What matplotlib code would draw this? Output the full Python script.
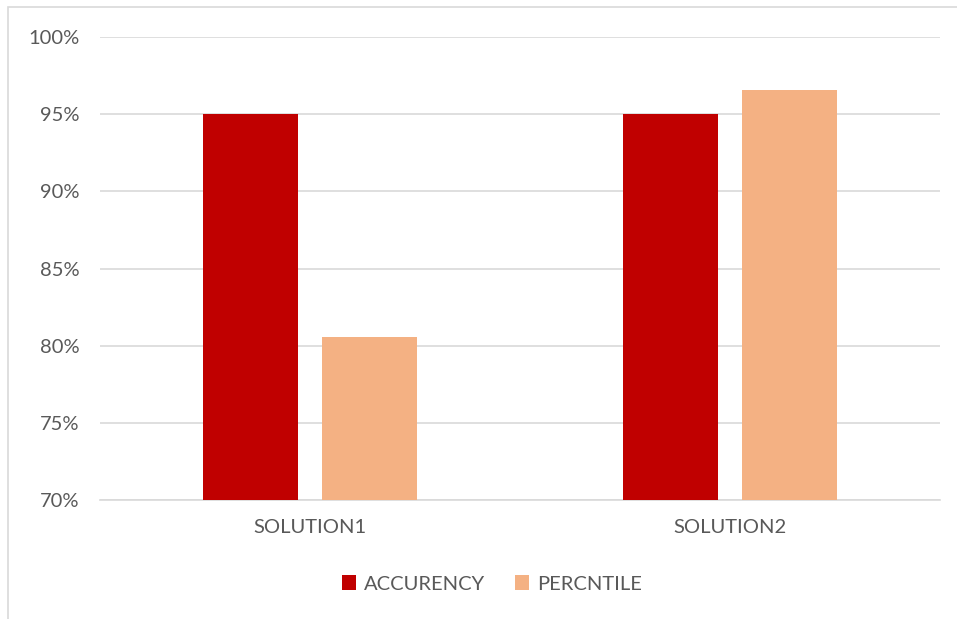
import matplotlib
matplotlib.use("Agg")
import matplotlib.pyplot as plt
import matplotlib.ticker as ticker
from matplotlib.patches import Rectangle

plt.rcParams["font.family"] = ["Lato", "DejaVu Sans"]

# data
categories = ["SOLUTION1", "SOLUTION2"]
accurency = [95.0, 95.0]
percntile = [80.58, 96.57]
y_ticks = [70, 75, 80, 85, 90, 95, 100]

RED = "#C00000"
PEACH = "#F4B183"
GRID = "#D9D9D9"
TEXT = "#595959"

fig = plt.figure(figsize=(9.57, 6.19), dpi=100)
ax = fig.add_axes([100 / 957, 1 - 500 / 619, 840 / 957, 463 / 619])

# chart frame (left and top edges visible)
fig.patches.append(Rectangle((8 / 957, -0.1), 1.2, 1 - 7 / 619 + 0.1,
                             transform=fig.transFigure, fill=False,
                             edgecolor=GRID, linewidth=1.2))

x = range(len(categories))
w = 0.224
off = 0.1417
ax.bar([i - off for i in x], accurency, w, color=RED, label="ACCURENCY", zorder=3)
ax.bar([i + off for i in x], percntile, w, color=PEACH, label="PERCNTILE", zorder=3)

ax.set_xlim(-0.5, 1.5)
ax.set_ylim(70, 100)
ax.set_yticks(y_ticks)
ax.yaxis.set_major_formatter(ticker.FuncFormatter(lambda v, p: f"{v:.0f}%"))
ax.set_xticks(list(x))
ax.set_xticklabels(categories)
ax.grid(axis="y", color=GRID, linewidth=1.2, zorder=0)
ax.tick_params(axis="both", length=0, labelsize=14.5, colors=TEXT)
ax.tick_params(axis="y", pad=15)
ax.tick_params(axis="x", pad=14)
for s in ["top", "right", "left"]:
    ax.spines[s].set_visible(False)
ax.spines["bottom"].set_color(GRID)
ax.spines["bottom"].set_linewidth(1.2)

leg = fig.legend(loc="center", bbox_to_anchor=(492 / 957, 1 - 584 / 619), ncol=2,
                 frameon=False, fontsize=14.5, handlelength=0.7, handleheight=0.7,
                 handletextpad=0.4, columnspacing=1.5)
for t in leg.get_texts():
    t.set_color(TEXT)

fig.savefig("out.png", dpi=100)
